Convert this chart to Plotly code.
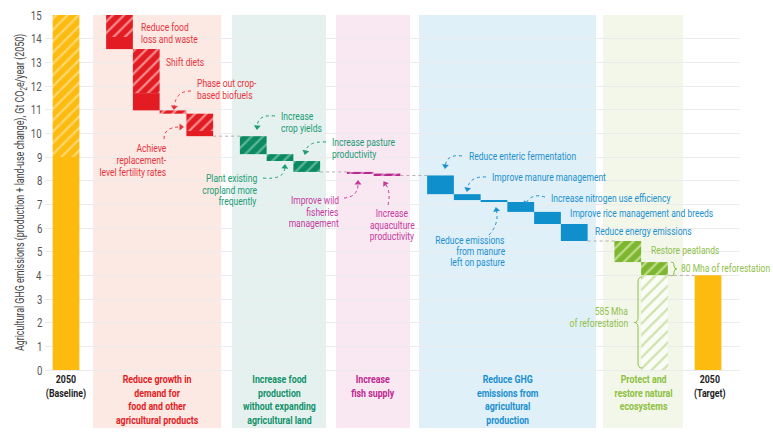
import math
import plotly.graph_objects as go

# ---------------- data ----------------
baseline_value = 15.0
baseline_hatched = 6.0          # hatched top part of the 2050 baseline bar
target_value = 4.0

lever_labels = [
    "Reduce food loss and waste", "Shift diets", "Phase out crop-based biofuels",
    "Achieve replacement-level fertility rates",
    "Increase crop yields", "Plant existing cropland more frequently", "Increase pasture productivity",
    "Improve wild fisheries management", "Increase aquaculture productivity",
    "Reduce enteric fermentation", "Improve manure management",
    "Reduce emissions from manure left on pasture", "Increase nitrogen use efficiency",
    "Improve rice management and breeds", "Reduce energy emissions",
    "Restore peatlands", "80 Mha of reforestation",
]
lever_reduction = [1.44, 2.59, 0.14, 0.95,
                   0.76, 0.29, 0.46,
                   0.07, 0.08,
                   0.79, 0.25, 0.08, 0.42, 0.51, 0.72,
                   0.89, 0.56]
lever_hatched = [0.93, 1.86, 0.14, 0.73,
                 0.76, 0.29, 0.46,
                 0.07, 0.08,
                 0.0, 0.0, 0.0, 0.0, 0.0, 0.0,
                 0.89, 0.56]
reforestation_585 = 4.0
y_ticks = list(range(0, 16))

group_labels = [
    ["Reduce growth in", "demand for", "food and other", "agricultural products"],
    ["Increase food", "production", "without expanding", "agricultural land"],
    ["Increase", "fish supply"],
    ["Reduce GHG", "emissions from", "agricultural", "production"],
    ["Protect and", "restore natural", "ecosystems"],
]
group_sizes = [4, 3, 2, 6, 2]

# ---------------- styles ----------------
FONT = "Roboto, Liberation Sans, sans-serif"
YELLOW, YELLOW_H = "#FDBB10", "#FED86E"
bar_col = ["#E31B23", "#0B8A62", "#B52A8E", "#0F8FCB", "#7DB72F"]
hatch_col = ["#F38A8C", "#5DB595", "#DA86BF", "#6CC0E6", "#BFDC8A"]
text_col = ["#E8333B", "#1A9C76", "#C63A9D", "#1C90D0", "#8FC14A"]
label_col = ["#E31B23", "#12926B", "#C0288F", "#1A8FCF", "#8DC03F"]
panel_col = ["#FDE9E4", "#E5F1EE", "#F9E7F2", "#DFF0F8", "#F3F7EA"]
panel_px = [(93, 221), (232, 326), (336, 410), (419, 596), (603, 683)]


def X(px):
    return (px - 66) / 26.75


def Y(py):
    return (370 - py) / 23.6667


# slot positions
slots, s = [], 2
for n in group_sizes:
    slots.append(list(range(s, s + n)))
    s += n + 1
target_slot = s

fig = go.Figure()

# baseline bar (solid + hatched)
solid = baseline_value - baseline_hatched
fig.add_trace(go.Bar(
    x=[0, 0], y=[solid, baseline_hatched], base=[0, solid], width=1.0,
    marker=dict(color=YELLOW, line=dict(width=0),
                pattern=dict(shape=["", "/"], fgcolor=YELLOW_H, fgopacity=1,
                             fillmode="overlay", size=8, solidity=0.28)),
    hoverinfo="skip", showlegend=False))

level = baseline_value
levels_after = []
i = 0
for g, group in enumerate(slots):
    xs, bases, heights, shp = [], [], [], []
    for xslot in group:
        red, hat = lever_reduction[i], lever_hatched[i]
        bottom = level - red
        if red - hat > 1e-9:
            xs.append(xslot); bases.append(bottom); heights.append(red - hat); shp.append("")
        if hat > 0:
            xs.append(xslot); bases.append(level - hat); heights.append(hat); shp.append("/")
        level = bottom
        levels_after.append(level)
        i += 1
    fig.add_trace(go.Bar(
        x=xs, y=heights, base=bases, width=1.0,
        marker=dict(color=bar_col[g], line=dict(width=0),
                    pattern=dict(shape=shp, fgcolor=hatch_col[g], fgopacity=1,
                                 fillmode="overlay", size=8, solidity=0.28)),
        hoverinfo="skip", showlegend=False))

# 585 Mha of reforestation (potential, hatched outline)
fig.add_trace(go.Bar(
    x=[slots[4][1]], y=[reforestation_585], base=[level - reforestation_585], width=1.0,
    marker=dict(color="rgba(255,255,255,0.6)", line=dict(width=0),
                pattern=dict(shape="/", fgcolor="#CFE3AA", fgopacity=1, fillmode="overlay",
                             size=8, solidity=0.28)),
    hoverinfo="skip", showlegend=False))
# target
fig.add_trace(go.Bar(
    x=[target_slot], y=[target_value], width=1.0,
    marker=dict(color=YELLOW, line=dict(width=0)),
    hoverinfo="skip", showlegend=False))

shapes_l = []
# panels
for g, (a, b) in enumerate(panel_px):
    shapes_l.append(dict(type="rect", xref="x", yref="y", x0=X(a), x1=X(b),
                         y0=Y(428), y1=15, fillcolor=panel_col[g],
                         line=dict(width=0), layer="below"))
# connectors between groups
k = 0
for g, group in enumerate(slots):
    k += len(group)
    lv = levels_after[k - 1]
    xn = slots[g + 1][0] if g + 1 < len(slots) else target_slot
    shapes_l.append(dict(type="line", xref="x", yref="y", x0=group[-1] + 0.5, x1=xn - 0.5,
                         y0=lv, y1=lv, line=dict(color="#B0B0B0", width=1, dash="dot")))

annotations = []
heads = dict(x=[], y=[], angle=[], color=[])


def txt(lines, x, y0, color, anchor="left", size=11.5, step=11.5, bold=False):
    for j, line in enumerate(lines):
        t = f"<b>{line}</b>" if bold else line
        annotations.append(dict(x=X(x), y=Y(y0 + j * step), xref="x", yref="y",
                                text=t, showarrow=False, xanchor=anchor,
                                yanchor="middle",
                                font=dict(family=FONT, size=size, color=color)))


def block(lines, x, y_top, color, size=10.5):
    annotations.append(dict(x=X(x), y=Y(y_top), xref="x", yref="y",
                            text="<b>" + "<br>".join(lines) + "</b>", showarrow=False,
                            xanchor="center", yanchor="top", align="center",
                            borderpad=0,
                            font=dict(family=FONT, size=size, color=color)))


def arrow(p0, c, p1, color):
    dx, dy = p1[0] - c[0], p1[1] - c[1]
    n = math.hypot(dx, dy) or 1
    ux, uy = dx / n, dy / n
    e = (p1[0] - ux * 3, p1[1] - uy * 3)
    shapes_l.append(dict(type="path", xref="x", yref="y",
                         path=f"M {X(p0[0])},{Y(p0[1])} Q {X(c[0])},{Y(c[1])} {X(e[0])},{Y(e[1])}",
                         line=dict(color=color, width=1, dash="dot")))
    heads["x"].append(X(p1[0] - ux * 2))
    heads["y"].append(Y(p1[1] - uy * 2))
    heads["angle"].append(math.degrees(math.atan2(ux, -uy)))
    heads["color"].append(color)


def brace(x, top, bot, direction, color, w=4, r=4):
    mid = (top + bot) / 2
    d = direction
    pts = [
        ("M", [(x - d * w, top)]),
        ("Q", [(x, top), (x, top + r)]),
        ("L", [(x, mid - r)]),
        ("Q", [(x, mid), (x + d * w, mid)]),
        ("Q", [(x, mid), (x, mid + r)]),
        ("L", [(x, bot - r)]),
        ("Q", [(x, bot), (x - d * w, bot)]),
    ]
    path = " ".join(cmd + " " + " ".join(f"{X(px)},{Y(py)}" for px, py in p) for cmd, p in pts)
    shapes_l.append(dict(type="path", xref="x", yref="y", path=path,
                         line=dict(color=color, width=1)))


R, G, P, B, L = text_col
# red
txt(["Reduce food", "loss and waste"], 139, 27, R)
txt(["Shift diets"], 164, 62, R)
txt(["Phase out crop-", "based biofuels"], 195, 83, R)
arrow((191, 91), (176, 91), (174, 109), R)
txt(["Achieve", "replacement-", "level fertility rates"], 168, 148, R, anchor="right", step=12)
arrow((164, 139), (164, 127), (183, 127), R)
# green
txt(["Increase", "crop yields"], 279, 116, G)
arrow((275, 116), (258, 114), (257, 129), G)
txt(["Increase pasture", "productivity"], 330, 142, G)
arrow((326, 142), (308, 141), (305, 154), G)
txt(["Plant existing", "cropland more", "frequently"], 259, 178, G, anchor="right")
arrow((263, 178), (284, 180), (285, 165), G)
# pink
txt(["Improve wild", "fisheries", "management"], 341, 200, P, anchor="right")
arrow((344, 198), (358, 197), (358, 181), P)
txt(["Increase", "aquaculture", "productivity"], 392, 213, P, anchor="center")
arrow((388, 205), (391, 192), (384, 182), P)
# blue
txt(["Reduce enteric fermentation"], 467, 156, B)
arrow((462, 156), (447, 154), (445, 168), B)
txt(["Improve manure management"], 490, 177, B)
arrow((486, 177), (470, 176), (467, 191), B)
txt(["Increase nitrogen use efficiency"], 549, 198, B)
arrow((545, 197), (532, 193), (525, 205), B)
txt(["Improve rice management and breeds"], 568, 213, B)
txt(["Reduce energy emissions"], 593, 231, B)
txt(["Reduce emissions", "from manure", "left on pasture"], 507, 240, B, anchor="right", step=11)
arrow((489, 235), (499, 224), (496, 208), B)
# light green
txt(["Restore peatlands"], 649, 250, L)
txt(["80 Mha of reforestation"], 679, 268, L)
brace(674, 262, 276, 1, L, w=3, r=3)
txt(["585 Mha", "of reforestation"], 630, 311, L, anchor="right")
brace(638, 277, 368, -1, L, w=4, r=5)

# arrow heads
fig.add_trace(go.Scatter(
    x=heads["x"], y=heads["y"], mode="markers",
    marker=dict(symbol="triangle-up", size=6, angle=heads["angle"], color=heads["color"],
                line=dict(width=0)),
    hoverinfo="skip", showlegend=False, cliponaxis=False))

# group labels
centers = [(a + b) / 2 for a, b in panel_px]
for g, lines in enumerate(group_labels):
    block(lines, centers[g], 372, label_col[g])
block(["2050", "(Baseline)"], 66, 372, "#222")
block(["2050", "(Target)"], 709.5, 372, "#222")

# y tick labels
for v in y_ticks:
    annotations.append(dict(xref="paper", yref="y", x=-1 / 695, y=v, text=str(v),
                            xanchor="right", yanchor="middle", showarrow=False,
                            font=dict(family=FONT, size=13, color="#555")))

# y-axis title
annotations.append(dict(
    xref="paper", yref="y", x=-(45 - 21) / 695, y=Y(193), xanchor="center", yanchor="middle",
    text="Agricultural GHG emissions (production + land-use change), Gt CO<sub>2</sub>e/year (2050)",
    textangle=-90, showarrow=False, font=dict(family=FONT, size=12, color="#444")))

fig.update_layout(
    width=773, height=438, margin=dict(l=45, r=33, t=15, b=6),
    paper_bgcolor="white", plot_bgcolor="white", barmode="overlay",
    font=dict(family=FONT, color="#444"),
    xaxis=dict(range=[X(45), X(740)], visible=False, fixedrange=True),
    yaxis=dict(range=[Y(432), 15], tickvals=y_ticks, showgrid=True,
               gridcolor="#EBEBEB", gridwidth=1, zeroline=False, showline=False,
               ticks="", showticklabels=False, fixedrange=True),
    shapes=shapes_l, annotations=annotations,
)

# condensed look: narrow every annotation text horizontally around its anchor
post = """
document.body.style.margin = '0';
var gd = document.getElementById('{plot_id}');
var anns = gd.layout.annotations || [];
gd.querySelectorAll('g.annotation').forEach(function(g){
  var a = anns[+g.getAttribute('data-index')];
  var t = g.querySelector('text');
  if (!a || !t) return;
  var S = (String(a.text).indexOf('<b>') === 0) ? 0.84 : 0.74;
  var o = a.xanchor === 'left' ? 'left' : (a.xanchor === 'right' ? 'right' : 'center');
  if (a.textangle === -90) o = 'center';
  t.style.transformBox = 'fill-box';
  t.style.transformOrigin = o + ' center';
  t.style.transform = 'scaleX(' + S + ')';
});
"""
fig.write_html("out.html", post_script=post, config={"displayModeBar": False})
